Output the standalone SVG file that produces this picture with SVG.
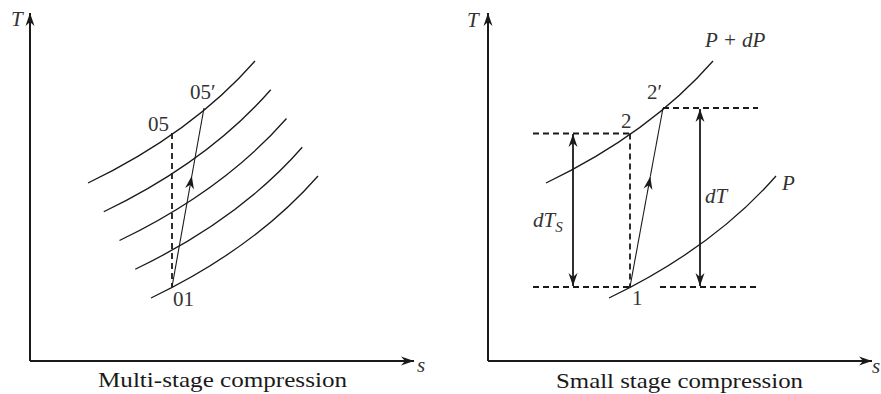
<svg xmlns="http://www.w3.org/2000/svg" width="881" height="394" viewBox="0 0 881 394">
<style>
.axis{stroke:#1a1a1a;stroke-width:2;fill:none}
.curve{stroke:#1a1a1a;stroke-width:1.3;fill:none}
.thin{stroke:#1a1a1a;stroke-width:1.1;fill:none}
.dash{stroke:#1a1a1a;stroke-width:1.8;fill:none;stroke-dasharray:6 4}
.dbl{stroke:#1a1a1a;stroke-width:1.8;fill:none}
.lbl{font-family:"Liberation Serif","Times New Roman",serif;font-size:21px;fill:#333}
.it{font-style:italic}
.cap{font-family:"Liberation Serif","Times New Roman",serif;font-size:22px;fill:#1a1a1a}
</style>
<defs>
<marker id="ah" viewBox="-14 -6 16 12" markerWidth="16" markerHeight="12" refX="0" refY="0" orient="auto" markerUnits="userSpaceOnUse">
<path d="M0,0 L-13,-4.5 L-9,0 L-13,4.5 Z" fill="#1a1a1a"/>
</marker>
<marker id="ahs" viewBox="-14 -6 16 12" markerWidth="16" markerHeight="12" refX="0" refY="0" orient="auto-start-reverse" markerUnits="userSpaceOnUse">
<path d="M0,0 L-13,-4.5 L-9,0 L-13,4.5 Z" fill="#1a1a1a"/>
</marker>
<path id="pc" d="M88,183 Q192,133 255,61"/>
</defs>

<g id="left-panel">
<g id="left-axes">
<path class="axis" d="M30,361 L30,13" marker-end="url(#ah)"/>
<path class="axis" d="M30,361 L414,361" marker-end="url(#ah)"/>
<text class="lbl it" x="11" y="26">T</text>
<text class="lbl it" x="417" y="372">s</text>
</g>
<g id="left-curves">
<use href="#pc" class="curve"/>
<use href="#pc" class="curve" transform="translate(15.75,28.75)"/>
<use href="#pc" class="curve" transform="translate(31.5,57.5)"/>
<use href="#pc" class="curve" transform="translate(47.25,86.25)"/>
<use href="#pc" class="curve" transform="translate(63,115)"/>
</g>
<g id="left-connectors">
<path class="dash" d="M172,133 L172,287"/>
<path class="thin" d="M172,287 L191.8,176" marker-end="url(#ah)"/>
<path class="thin" d="M191.8,176 L204,108"/>
</g>
<g id="left-labels">
<text class="lbl" x="148" y="131">05</text>
<text class="lbl" x="190" y="99">05′</text>
<text class="lbl" x="173" y="306">01</text>
</g>
<text class="cap" x="98" y="387" textLength="249" lengthAdjust="spacingAndGlyphs">Multi-stage compression</text>
</g>

<g id="right-panel">
<g id="right-axes">
<path class="axis" d="M488,361 L488,13" marker-end="url(#ah)"/>
<path class="axis" d="M488,361 L872,361" marker-end="url(#ah)"/>
<text class="lbl it" x="467" y="27">T</text>
<text class="lbl it" x="872" y="373">s</text>
</g>
<g id="right-curves">
<use href="#pc" class="curve" transform="translate(458,0)"/>
<use href="#pc" class="curve" transform="translate(521,115)"/>
</g>
<g id="right-connectors">
<path class="dash" d="M533,133.5 L630,133.5"/>
<path class="dash" d="M533,287 L630,287"/>
<path class="dash" d="M663,108 L758,108"/>
<path class="dash" d="M660,287 L758,287"/>
<path class="dash" d="M630,133.5 L630,287"/>
<path class="thin" d="M630,287 L650.3,176.5" marker-end="url(#ah)"/>
<path class="thin" d="M650.3,176.5 L663,108"/>
<path class="dbl" d="M573,134 L573,286" marker-start="url(#ahs)" marker-end="url(#ahs)"/>
<path class="dbl" d="M700,109 L700,286" marker-start="url(#ahs)" marker-end="url(#ahs)"/>
</g>
<g id="right-labels">
<text class="lbl it" x="705" y="47">P + dP</text>
<text class="lbl it" x="782" y="190">P</text>
<text class="lbl it" x="705" y="203">dT</text>
<text class="lbl it" x="533" y="227">dT<tspan font-size="15" dy="5">S</tspan></text>
<text class="lbl" x="621" y="128">2</text>
<text class="lbl" x="647" y="99">2′</text>
<text class="lbl" x="632" y="305">1</text>
</g>
<text class="cap" x="556" y="388" textLength="247" lengthAdjust="spacingAndGlyphs">Small stage compression</text>
</g>
</svg>
